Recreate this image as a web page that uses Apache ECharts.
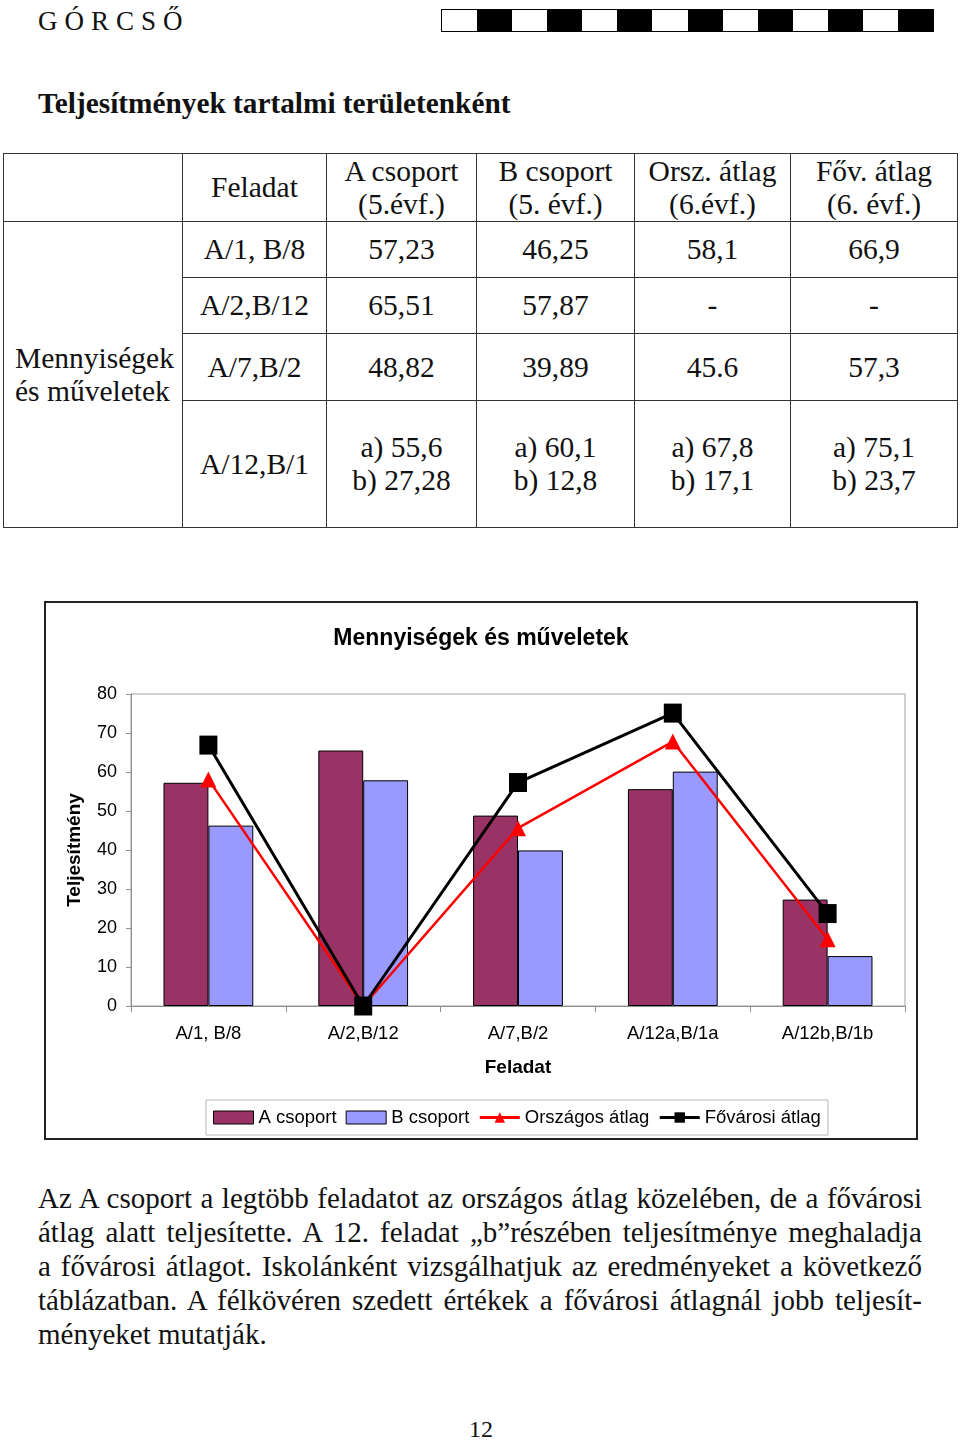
<!DOCTYPE html>
<html><head><meta charset="utf-8">
<script src="https://cdn.jsdelivr.net/npm/echarts@6/dist/echarts.min.js"></script>
<style>
html,body{margin:0;padding:0;background:#fff;}
body{width:960px;height:1440px;position:relative;font-family:"Liberation Serif","Times New Roman",serif;color:#111;}
.abs{position:absolute;}
#brand{left:38px;top:4px;font-size:27px;letter-spacing:7px;line-height:34px;}
#checker{left:441px;top:9px;width:491px;height:21px;border:1.5px solid #000;display:flex;}
#checker div{flex:1;}
#title{left:38px;top:86px;font-size:29.3px;font-weight:bold;line-height:34px;white-space:nowrap;}
table{position:absolute;left:3px;top:153px;width:954px;border-collapse:collapse;table-layout:fixed;font-size:29.5px;line-height:33px;}
td{border:1.5px solid #333;text-align:center;vertical-align:middle;padding:0;white-space:nowrap;}
td.left{text-align:left;padding-left:11px;}
#chartBox{left:44px;top:601px;width:874px;height:539px;box-sizing:border-box;border:2px solid #222;}
#chart{width:870px;height:535px;}
#para{left:38px;top:1181px;width:884px;font-size:29px;line-height:34px;transform-origin:0 0;}
#para div{text-align:justify;text-align-last:justify;white-space:nowrap;}
#para div.last{text-align-last:left;}
#pnum{left:0;width:962px;top:1414px;text-align:center;font-size:24px;line-height:30px;}
</style></head>
<body>
<div id="brand" class="abs">GÓRCSŐ</div>
<div id="checker" class="abs"></div>
<div id="title" class="abs">Teljesítmények tartalmi területenként</div>
<table>
<colgroup><col style="width:179px"><col style="width:144px"><col style="width:150px"><col style="width:158px"><col style="width:156px"><col style="width:167px"></colgroup>
<tr style="height:68px"><td></td><td>Feladat</td><td>A csoport<br>(5.évf.)</td><td>B csoport<br>(5. évf.)</td><td>Orsz. átlag<br>(6.évf.)</td><td>Főv. átlag<br>(6. évf.)</td></tr>
<tr style="height:56px"><td rowspan="4" class="left">Mennyiségek<br>és műveletek</td><td>A/1, B/8</td><td>57,23</td><td>46,25</td><td>58,1</td><td>66,9</td></tr>
<tr style="height:56px"><td>A/2,B/12</td><td>65,51</td><td>57,87</td><td>-</td><td>-</td></tr>
<tr style="height:67px"><td>A/7,B/2</td><td>48,82</td><td>39,89</td><td>45.6</td><td>57,3</td></tr>
<tr style="height:127px"><td>A/12,B/1</td><td>a) 55,6<br>b) 27,28</td><td>a) 60,1<br>b) 12,8</td><td>a) 67,8<br>b) 17,1</td><td>a) 75,1<br>b) 23,7</td></tr>
</table>
<div id="chartBox" class="abs"><div id="chart"></div></div>
<div id="para" class="abs">
<div>Az A csoport a legtöbb feladatot az országos átlag közelében, de a fővárosi</div>
<div>átlag alatt teljesítette. A 12. feladat „b”részében teljesítménye meghaladja</div>
<div>a fővárosi átlagot. Iskolánként vizsgálhatjuk az eredményeket a következő</div>
<div>táblázatban. A félkövéren szedett értékek a fővárosi átlagnál jobb teljesít-</div>
<div class="last">ményeket mutatják.</div>
</div>
<div id="pnum" class="abs">12</div>
<script>
// checker pattern
var checker = document.getElementById('checker');
for (var i = 0; i < 14; i++) {
  var d = document.createElement('div');
  d.style.background = (i % 2 === 0) ? '#fff' : '#000';
  checker.appendChild(d);
}
// fit paragraph: condense horizontally if natural line width exceeds the column
(function () {
  var para = document.getElementById('para');
  var lines = para.querySelectorAll('div');
  var maxW = 0;
  lines.forEach(function (l) {
    var s = document.createElement('span');
    s.textContent = l.textContent;
    s.style.whiteSpace = 'nowrap';
    s.style.font = getComputedStyle(para).font;
    s.style.position = 'absolute';
    s.style.visibility = 'hidden';
    document.body.appendChild(s);
    if (!l.classList.contains('last')) maxW = Math.max(maxW, s.getBoundingClientRect().width);
    document.body.removeChild(s);
  });
  var target = 878;
  if (maxW > target) {
    var k = target / maxW;
    para.style.width = (884 / k) + 'px';
    para.style.transform = 'scaleX(' + k + ')';
  }
})();

var categories = ['A/1, B/8', 'A/2,B/12', 'A/7,B/2', 'A/12a,B/1a', 'A/12b,B/1b'];
var aCsoport = [57.23, 65.51, 48.82, 55.6, 27.28];
var bCsoport = [46.25, 57.87, 39.89, 60.1, 12.8];
var orszagos = [58.1, 0, 45.6, 67.8, 17.1];
var fovarosi = [66.9, 0, 57.3, 75.1, 23.7];
var yTicks = [0, 10, 20, 30, 40, 50, 60, 70, 80];

var font = '"Liberation Sans", Arial, sans-serif';
var chart = echarts.init(document.getElementById('chart'), null, {renderer: 'canvas'});
chart.setOption({
  animation: false,
  backgroundColor: '#fff',
  title: {
    text: 'Mennyiségek és műveletek', left: 'center', top: 19,
    textStyle: {fontFamily: font, fontSize: 23, fontWeight: 'bold', color: '#000'}
  },
  grid: {left: 85, top: 91, width: 774, height: 312, show: true, borderColor: '#a0a0a0', borderWidth: 1},
  legend: {
    left: 160, top: 497, padding: [8, 7], itemGap: 9, itemWidth: 40, itemHeight: 13,
    borderColor: '#b8b8b8', borderWidth: 1,
    textStyle: {fontFamily: font, fontSize: 18.5, color: '#000'},
    data: [
      {name: 'A csoport', icon: 'rect', itemStyle: {borderColor: '#000', borderWidth: 1}},
      {name: 'B csoport', icon: 'rect', itemStyle: {borderColor: '#000', borderWidth: 1}},
      {name: 'Országos átlag', lineStyle: {width: 3}},
      {name: 'Fővárosi átlag', lineStyle: {width: 3}}
    ]
  },
  xAxis: {
    type: 'category', data: categories,
    name: 'Feladat', nameLocation: 'middle', nameGap: 52,
    nameTextStyle: {fontFamily: font, fontSize: 19, fontWeight: 'bold', color: '#000'},
    axisLine: {lineStyle: {color: '#909090', width: 1}},
    axisTick: {show: true, length: 6, lineStyle: {color: '#909090'}},
    axisLabel: {fontFamily: font, fontSize: 18.5, color: '#000', margin: 18}
  },
  yAxis: {
    type: 'value', min: yTicks[0], max: yTicks[yTicks.length - 1], interval: 10,
    name: 'Teljesítmény', nameLocation: 'middle', nameGap: 47,
    nameTextStyle: {fontFamily: font, fontSize: 19, fontWeight: 'bold', color: '#000'},
    axisLine: {show: true, lineStyle: {color: '#909090', width: 1}},
    axisTick: {show: true, length: 5, lineStyle: {color: '#909090'}},
    splitLine: {show: false},
    axisLabel: {fontFamily: font, fontSize: 18, color: '#000', margin: 14}
  },
  series: [
    {name: 'A csoport', type: 'bar', data: aCsoport, barGap: '0%', barCategoryGap: '42%',
     itemStyle: {color: '#993366', borderColor: '#000', borderWidth: 1}},
    {name: 'B csoport', type: 'bar', data: bCsoport,
     itemStyle: {color: '#9999ff', borderColor: '#000', borderWidth: 1}},
    {name: 'Országos átlag', type: 'line', data: orszagos, symbol: 'triangle', symbolSize: 16,
     lineStyle: {color: '#ff0000', width: 2.5}, itemStyle: {color: '#ff0000'}, z: 3},
    {name: 'Fővárosi átlag', type: 'line', data: fovarosi, symbol: 'rect', symbolSize: [18, 19],
     lineStyle: {color: '#000', width: 3}, itemStyle: {color: '#000'}, z: 4}
  ]
});
</script>
</body></html>
